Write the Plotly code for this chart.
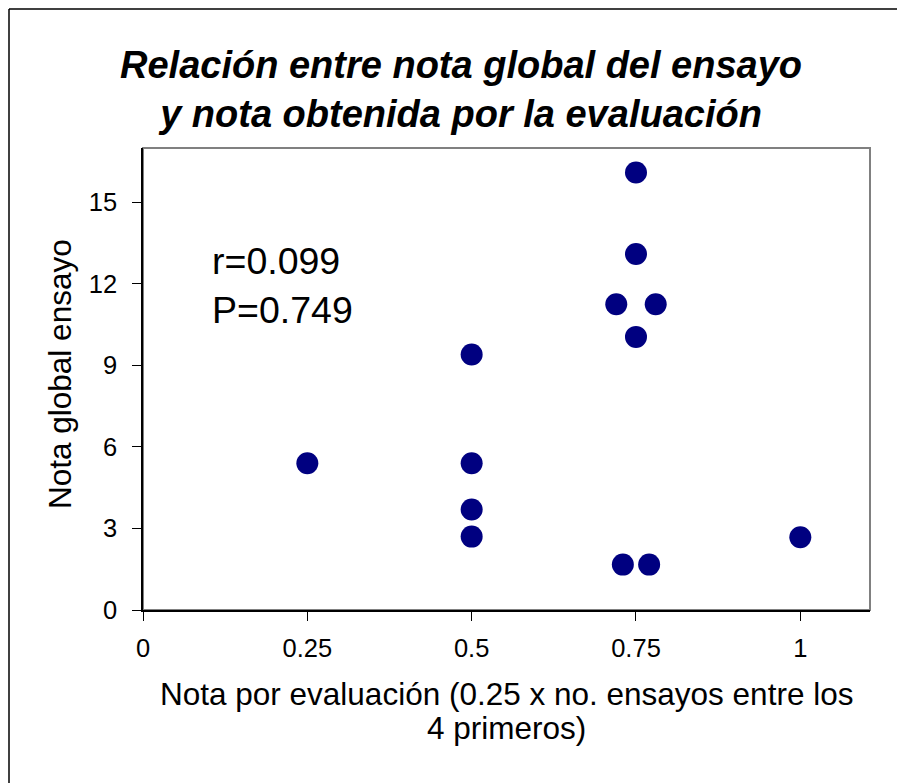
import plotly.graph_objects as go

# Data
nota_evaluacion = [0.25, 0.5, 0.5, 0.5, 0.5, 0.75, 0.75, 0.72, 0.78, 0.75, 0.73, 0.77, 1.0]
nota_global = [5.4, 9.4, 5.4, 3.7, 2.7, 16.1, 13.1, 11.25, 11.25, 10.05, 1.67, 1.67, 2.68]
x_ticks = [0, 0.25, 0.5, 0.75, 1]
x_tick_labels = ["0", "0.25", "0.5", "0.75", "1"]
y_ticks = [0, 3, 6, 9, 12, 15]
y_tick_labels = ["0", "3", "6", "9", "12", "15"]

W, H = 905, 783
OFF = 8  # page offset of the figure inside the window
L, R, T, B = 135, 43, 140, 181
pw, ph = W - L - R, H - T - B

def px_x(p):
    return (p - OFF - L) / pw

def px_y(p):
    return (H - B - (p - OFF)) / ph

FONT = "Liberation Sans, Arial, sans-serif"

fig = go.Figure()
fig.add_trace(go.Scatter(
    x=nota_evaluacion, y=nota_global, mode="markers",
    marker=dict(size=22, color="#000080", line=dict(width=0)),
    showlegend=False, cliponaxis=False,
))

fig.update_layout(
    width=W, height=H,
    margin=dict(l=L, r=R, t=T, b=B, autoexpand=False),
    paper_bgcolor="white", plot_bgcolor="white",
    font=dict(family=FONT, color="black"),
    xaxis=dict(
        range=[0, 1.106], tickvals=x_ticks, ticktext=x_tick_labels,
        showgrid=False, zeroline=False, showline=True, linecolor="black", linewidth=1.5,
        ticks="outside", ticklen=9, tickcolor="black", tickwidth=1.2,
        tickfont=dict(size=25.5, family=FONT), ticklabelstandoff=6,
    ),
    yaxis=dict(
        range=[0, 17], tickvals=y_ticks, ticktext=y_tick_labels,
        showgrid=False, zeroline=False, showline=True, linecolor="black", linewidth=1.5,
        ticks="outside", ticklen=9, tickcolor="black", tickwidth=1.2,
        tickfont=dict(size=25.5, family=FONT), ticklabelstandoff=10,
    ),
    shapes=[
        # gray plot frame (top/right)
        dict(type="rect", xref="paper", yref="paper", x0=0, y0=0, x1=1, y1=1,
             line=dict(color="#808080", width=2), layer="below"),
        # outer chart border (left and top visible)
        dict(type="line", xref="paper", yref="paper", x0=px_x(9), y0=px_y(9), x1=px_x(930), y1=px_y(9),
             line=dict(color="black", width=1.5)),
        dict(type="line", xref="paper", yref="paper", x0=px_x(9), y0=px_y(9), x1=px_x(9), y1=px_y(810),
             line=dict(color="black", width=1.5)),
    ],
    annotations=[
        dict(text="<b><i>Relación entre nota global del ensayo<br>y nota obtenida por la evaluación</i></b>",
             xref="paper", yref="paper", x=px_x(461), y=px_y(89), xanchor="center", yanchor="middle",
             showarrow=False, font=dict(size=38, family=FONT, color="black")),
        dict(text="r=0.099<br>P=0.749", align="left",
             xref="paper", yref="paper", x=px_x(210), y=px_y(285), xanchor="left", yanchor="middle",
             showarrow=False, font=dict(size=37.5, family=FONT, color="black")),
        dict(text="Nota por evaluación (0.25 x no. ensayos entre los",
             xref="paper", yref="paper", x=px_x(506), y=px_y(694), xanchor="center", yanchor="middle",
             showarrow=False, font=dict(size=31.5, family=FONT, color="black")),
        dict(text="4 primeros)",
             xref="paper", yref="paper", x=px_x(506), y=px_y(728), xanchor="center", yanchor="middle",
             showarrow=False, font=dict(size=31.5, family=FONT, color="black")),
        dict(text="Nota global ensayo", textangle=-90,
             xref="paper", yref="paper", x=px_x(60), y=px_y(374), xanchor="center", yanchor="middle",
             showarrow=False, font=dict(size=31.5, family=FONT, color="black")),
    ],
)

fig.write_html("out.html")
